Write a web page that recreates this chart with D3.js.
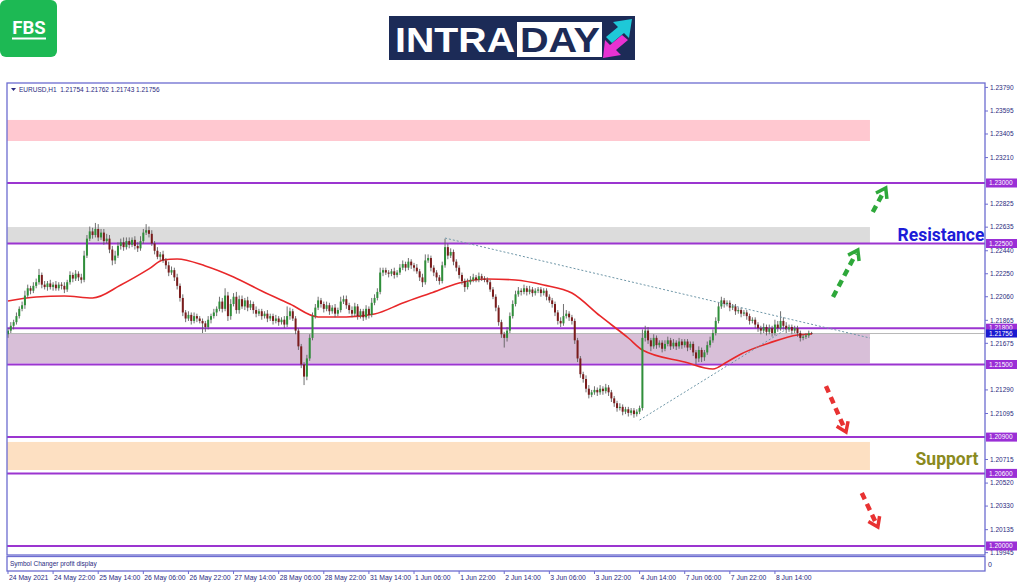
<!DOCTYPE html>
<html><head><meta charset="utf-8">
<script src="https://cdn.jsdelivr.net/npm/d3@7"></script>
<style>body{margin:0;background:#fff;} svg{display:block;font-family:"Liberation Sans",Arial,sans-serif}</style>
</head><body><svg id="c" width="1024" height="587"></svg>
<script>
// ---------- DATA ----------
const symbolTitle = "EURUSD,H1  1.21754 1.21762 1.21743 1.21756";
const closes = [
1.2178,1.2182,1.2185,1.2190,1.2196,1.2199,1.2207,1.2213,1.2211,1.2215,
1.2218,1.2224,1.2216,1.2214,1.2217,1.2214,1.2216,1.2213,1.2216,1.2215,
1.2212,1.2218,1.2224,1.2221,1.2225,1.2222,1.2220,1.2240,1.2254,1.2260,
1.2257,1.2262,1.2255,1.2259,1.2252,1.2254,1.2245,1.2236,1.2240,1.2248,
1.2251,1.2247,1.2252,1.2249,1.2253,1.2248,1.2246,1.2252,1.2259,1.2261,
1.2258,1.2250,1.2244,1.2239,1.2241,1.2236,1.2232,1.2226,1.2228,1.2222,
1.2215,1.2205,1.2193,1.2188,1.2191,1.2186,1.2190,1.2188,1.2186,1.2184,
1.2181,1.2187,1.2190,1.2193,1.2196,1.2202,1.2196,1.2207,1.2190,1.2200,
1.2206,1.2195,1.2204,1.2198,1.2203,1.2197,1.2200,1.2195,1.2192,1.2194,
1.2190,1.2192,1.2188,1.2190,1.2186,1.2188,1.2185,1.2187,1.2183,1.2190,
1.2194,1.2188,1.2178,1.2165,1.2150,1.2140,1.2155,1.2172,1.2190,1.2197,
1.2203,1.2200,1.2196,1.2199,1.2194,1.2197,1.2192,1.2195,1.2202,1.2204,
1.2199,1.2195,1.2192,1.2198,1.2190,1.2194,1.2189,1.2196,1.2191,1.2201,
1.2205,1.2210,1.2226,1.2228,1.2226,1.2225,1.2227,1.2224,1.2226,1.2230,
1.2233,1.2230,1.2235,1.2232,1.2230,1.2227,1.2222,1.2218,1.2236,1.2238,
1.2230,1.2226,1.2222,1.2219,1.2232,1.2247,1.2240,1.2243,1.2235,1.2230,
1.2224,1.2219,1.2214,1.2218,1.2220,1.2222,1.2220,1.2223,1.2221,1.2220,
1.2218,1.2212,1.2206,1.2197,1.2185,1.2175,1.2172,1.2178,1.2190,1.2200,
1.2208,1.2211,1.2210,1.2213,1.2210,1.2212,1.2209,1.2211,1.2212,1.2209,
1.2211,1.2206,1.2203,1.2200,1.2193,1.2186,1.2184,1.2190,1.2192,1.2189,
1.2186,1.2170,1.2155,1.2142,1.2138,1.2130,1.2125,1.2127,1.2129,1.2127,
1.2130,1.2128,1.2131,1.2127,1.2122,1.2118,1.2114,1.2115,1.2111,1.2113,
1.2110,1.2112,1.2109,1.2111,1.2114,1.2172,1.2178,1.2170,1.2165,1.2172,
1.2166,1.2168,1.2163,1.2167,1.2170,1.2165,1.2168,1.2165,1.2169,1.2166,
1.2169,1.2164,1.2167,1.2160,1.2155,1.2162,1.2156,1.2160,1.2166,1.2170,
1.2176,1.2186,1.2198,1.2203,1.2200,1.2201,1.2197,1.2198,1.2194,1.2195,
1.2192,1.2193,1.2190,1.2186,1.2187,1.2183,1.2180,1.2178,1.2181,1.2177,
1.2180,1.2176,1.2183,1.2180,1.2186,1.2182,1.2179,1.2181,1.2178,1.2180,
1.2176,1.2172,1.2173,1.2174,1.2176,1.21756];
const firstOpen = 1.2175;
// upper / lower wick lengths in pips
const wickUp = [
2,3,2,3,2,3,4,3,2,3, 3,5,2,3,2,3,2,3,2,2, 3,2,3,2,3,2,3,4,3,4, 3,5,4,3,3,4,3,3,4,3,
3,4,3,3,2,3,3,4,3,5, 3,3,2,3,2,3,2,3,3,2, 3,2,3,2,3,2,3,2,2,2, 2,3,2,3,2,4,3,6,3,4,
3,4,3,3,2,3,3,2,3,2, 2,2,3,2,2,3,2,2,3,8, 3,2,2,2,2,2,3,3,3,3, 3,2,2,3,2,2,3,2,4,3,
3,2,3,3,2,2,2,3,2,4, 3,3,4,2,2,2,2,3,2,3, 3,2,3,2,2,3,2,3,5,3, 2,2,2,2,3,7,3,3,2,2,
2,2,2,3,3,3,2,3,2,2, 2,2,2,2,2,2,2,3,3,3, 3,3,2,3,2,3,2,2,2,2, 2,2,2,2,2,2,3,10,3,2,
2,2,2,2,2,3,3,2,3,2, 3,2,3,2,2,2,2,3,2,2, 2,2,2,2,2,7,4,3,2,3, 2,2,2,3,3,2,3,2,3,2,
2,2,2,2,2,3,2,2,3,3, 3,3,3,3,2,2,2,2,2,2, 2,2,2,2,2,2,2,2,3,2, 3,2,4,3,8,3,3,2,2,2,
2,2,2,2,2,1];
const wickDn = [
3,2,3,2,2,2,3,2,3,2, 2,2,3,2,3,2,3,2,2,3, 3,2,2,3,2,3,3,2,2,2, 3,2,3,2,3,2,3,4,3,2,
3,3,2,3,2,3,3,2,2,2, 3,2,3,2,3,2,3,3,2,3, 3,3,3,3,2,3,2,3,2,8, 4,2,3,2,3,2,3,2,4,3,
2,3,3,2,3,3,2,3,3,2, 3,2,3,2,3,2,3,2,3,2, 3,2,3,3,3,7,3,2,2,2, 2,3,3,2,3,2,3,2,2,2,
3,3,3,2,3,2,3,2,3,2, 2,2,2,3,2,3,2,3,2,2, 2,3,2,3,3,2,3,4,2,2, 3,3,3,3,2,2,3,2,3,3,
3,3,4,2,2,2,2,2,2,2, 2,2,2,3,3,3,8,3,2,2, 2,2,3,2,3,2,3,2,2,3, 2,3,2,3,3,3,3,2,2,3,
3,3,3,3,3,3,3,2,2,3, 2,3,2,3,3,3,3,2,3,2, 3,2,3,2,2,2,3,3,4,2, 3,2,3,2,2,3,2,3,2,3,
2,3,2,3,5,3,4,3,2,2, 2,2,2,2,3,2,3,2,3,2, 3,2,3,3,2,3,3,3,2,3, 2,3,2,3,2,3,3,2,3,2,
3,3,2,2,2,1];
// moving average (red line) read at bar indices
const maIdx = [0,10,20,30,40,50,55,60,70,80,90,100,110,120,130,140,150,160,170,180,190,200,210,220,225,240,250,255,260,270,280,285];
const maVal = [1.22025,1.22058,1.22066,1.22050,1.22157,1.22290,1.22364,1.22372,1.22314,1.22223,1.22107,1.22000,1.21893,1.21893,1.21917,1.22008,1.22091,1.22174,1.22207,1.22198,1.22157,1.22091,1.21901,1.21719,1.21620,1.21521,1.21463,1.21521,1.21587,1.21678,1.21744,1.21752];
// horizontal levels and zones
const levels = [1.23000,1.22500,1.21800,1.21500,1.20900,1.20600,1.20000];
const zoneTop = [1.23521,1.22636,1.21756,1.20860];
const zoneBottom = [1.23347,1.22500,1.21510,1.20628];
const currentPrice = 1.21756;
// axis ticks (visible ones)
const yTicks = [1.23790,1.23595,1.23405,1.23210,1.22825,1.22635,1.22440,1.22250,1.22060,1.21865,1.21675,1.21290,1.21095,1.20715,1.20520,1.20330,1.20135,1.19945];
const xTickLabels = ["24 May 2021","24 May 22:00","25 May 14:00","26 May 06:00","26 May 22:00","27 May 14:00","28 May 06:00","28 May 22:00","31 May 14:00","1 Jun 06:00","1 Jun 22:00","2 Jun 14:00","3 Jun 06:00","3 Jun 22:00","4 Jun 14:00","7 Jun 06:00","7 Jun 22:00","8 Jun 14:00"];
const barsPerLabel = 16;
// trend lines [index, price]
const trendUpper = [[155,1.22545],[305.7,1.21719]];
const trendLower = [[224,1.21041],[277.3,1.21810]];
// annotation arrows [fromIndex, fromPrice, toIndex, toPrice]
const greenArrows = [[292.6,1.22058,301.4,1.22446],[306.7,1.22760,311.3,1.22959]];
const redArrows = [[290.1,1.21322,297.2,1.20942],[302.8,1.20438,308.5,1.20157]];
const resistanceLabel = {text:"Resistance", idx:346.3, price:1.22521};
const supportLabel = {text:"Support", idx:344.2, price:1.20669};

// ---------- DRAW ----------
const svg = d3.select("#c");
const L=7, R=985, T=83, B=555, SB=571;
const x = d3.scaleLinear().domain([-0.35, 346.5]).range([L, R]);
const y = d3.scaleLinear().domain([1.23-(B-183)/12100, 1.23+(183-T)/12100]).range([B, T]);
const fmt = d3.format(".5f");
const frameColor = "#6c6cd0", textColor = "#2a2a80", levelColor = "#9b35d0";

// logos
const fbs = svg.append("g");
fbs.append("rect").attr("x",0).attr("y",0).attr("width",57).attr("height",57).attr("rx",6).attr("fill","#1db954");
fbs.append("text").attr("x",29).attr("y",34).attr("text-anchor","middle").attr("fill","#fff")
  .attr("font-size",18.5).attr("font-weight","bold").attr("font-family","Roboto, sans-serif").text("FBS");
fbs.append("rect").attr("x",12).attr("y",37.5).attr("width",34).attr("height",2).attr("fill","#fff");

const lg = svg.append("g");
lg.append("rect").attr("x",389).attr("y",16).attr("width",246).attr("height",44).attr("fill","#1c2b57");
lg.append("text").attr("x",395).attr("y",52).attr("fill","#fff").attr("font-size",35).attr("font-weight","bold")
  .attr("textLength",120).attr("lengthAdjust","spacingAndGlyphs").text("INTRA");
lg.append("rect").attr("x",517).attr("y",22).attr("width",85).attr("height",35).attr("fill","#fff");
lg.append("text").attr("x",520).attr("y",52).attr("fill","#1c2b57").attr("font-size",35).attr("font-weight","bold")
  .attr("textLength",80).attr("lengthAdjust","spacingAndGlyphs").text("DAY");
lg.append("path").attr("d","M606,37 L618,27 L613,22 L632,19 L629,38 L624,33 L612,43 Z").attr("fill","#1ec8d8");
lg.append("path").attr("d","M628,40 L616,50 L621,55 L603,58 L605,40 L610,45 L622,35 Z").attr("fill","#e832d2");

// frame
svg.append("rect").attr("x",L).attr("y",T).attr("width",R-L).attr("height",B-T).attr("fill","#fff");
const defs = svg.append("defs");
defs.append("clipPath").attr("id","clip").append("rect").attr("x",L).attr("y",T).attr("width",R-L).attr("height",B-T);
const plot = svg.append("g").attr("clip-path","url(#clip)");

// zones
const zoneColors = ["#ffc8d0","#dcdcdc","#d8bfd8","#fde0c2"];
plot.selectAll("rect.zone").data(zoneTop).join("rect").attr("class","zone")
  .attr("x",x(-0.35)).attr("width",x(305.7)-x(-0.35))
  .attr("y",d=>y(d)).attr("height",(d,i)=>y(zoneBottom[i])-y(d)).attr("fill",(d,i)=>zoneColors[i]);

// current price line
plot.append("line").attr("x1",L).attr("x2",R).attr("y1",y(currentPrice)).attr("y2",y(currentPrice))
  .attr("stroke","#b8b8b8").attr("stroke-width",1);

// levels
plot.selectAll("line.lvl").data(levels).join("line").attr("class","lvl")
  .attr("x1",L).attr("x2",R).attr("y1",d=>y(d)).attr("y2",d=>y(d))
  .attr("stroke",levelColor).attr("stroke-width",2);

// MA
const maLine = d3.line().x(d=>x(d[0])).y(d=>y(d[1])).curve(d3.curveMonotoneX);
plot.append("path").datum(maIdx.map((d,i)=>[d,maVal[i]])).attr("d",maLine)
  .attr("fill","none").attr("stroke","#e8282a").attr("stroke-width",1.6);

// candles
const bars = closes.map((c,i)=>{
  const o = i===0?firstOpen:closes[i-1];
  return {i,o,c,h:Math.max(o,c)+wickUp[i]*0.0001,l:Math.min(o,c)-wickDn[i]*0.0001};
});
const cg = plot.append("g");
cg.selectAll("line").data(bars).join("line")
  .attr("x1",d=>x(d.i)).attr("x2",d=>x(d.i)).attr("y1",d=>y(d.h)).attr("y2",d=>y(d.l))
  .attr("stroke","#606060").attr("stroke-width",0.9);
cg.selectAll("rect").data(bars).join("rect")
  .attr("x",d=>x(d.i)-1).attr("width",2)
  .attr("y",d=>y(Math.max(d.o,d.c))).attr("height",d=>Math.max(0.8,Math.abs(y(d.o)-y(d.c))))
  .attr("fill",d=>d.c>=d.o?"#2f8f3a":"#7a1c1c");

// trend lines
[trendUpper,trendLower].forEach(t=>{
  plot.append("line").attr("x1",x(t[0][0])).attr("y1",y(t[0][1])).attr("x2",x(t[1][0])).attr("y2",y(t[1][1]))
    .attr("stroke","#6f97a8").attr("stroke-width",1).attr("stroke-dasharray","2,2");
});

// arrows
function arrow(a,color){
  const x0=x(a[0]),y0=y(a[1]),x1=x(a[2]),y1=y(a[3]);
  const ang=Math.atan2(y1-y0,x1-x0);
  const g=plot.append("g");
  g.append("line").attr("x1",x0).attr("y1",y0).attr("x2",x1-Math.cos(ang)*4).attr("y2",y1-Math.sin(ang)*4)
    .attr("stroke",color).attr("stroke-width",4.5).attr("stroke-dasharray","7,5");
  const hl=11, sp=0.6;
  const p1=[x1-hl*Math.cos(ang-sp),y1-hl*Math.sin(ang-sp)];
  const p2=[x1-hl*Math.cos(ang+sp),y1-hl*Math.sin(ang+sp)];
  g.append("path").attr("d",`M${p1[0]},${p1[1]} L${x1},${y1} L${p2[0]},${p2[1]}`)
    .attr("fill","none").attr("stroke",color).attr("stroke-width",3.5).attr("stroke-linejoin","miter");
}
greenArrows.forEach(a=>arrow(a,"#2ea83a"));
redArrows.forEach(a=>arrow(a,"#e83232"));

// labels
plot.append("text").attr("x",x(resistanceLabel.idx)).attr("y",y(resistanceLabel.price)).attr("text-anchor","end")
  .attr("font-family","Roboto, sans-serif").attr("font-weight","bold").attr("font-size",17.5).attr("fill","#1c1cd8")
  .text(resistanceLabel.text);
plot.append("text").attr("x",x(supportLabel.idx)).attr("y",y(supportLabel.price)).attr("text-anchor","end")
  .attr("font-family","Roboto, sans-serif").attr("font-weight","bold").attr("font-size",17.5).attr("fill","#8a8a1e")
  .text(supportLabel.text);

// header
svg.append("path").attr("d",`M11,88 L16,88 L13.5,91 Z`).attr("fill",textColor);
svg.append("text").attr("x",19).attr("y",91.5).attr("font-size",6.5).attr("fill",textColor).attr("xml:space","preserve").text(symbolTitle);

// frame borders
svg.append("rect").attr("x",L).attr("y",T).attr("width",R-L).attr("height",B-T).attr("fill","none").attr("stroke",frameColor).attr("stroke-width",1.3);
svg.append("rect").attr("x",L).attr("y",B+1.5).attr("width",R-L).attr("height",SB-B-1.5).attr("fill","#fff").attr("stroke",frameColor).attr("stroke-width",1.3);
svg.append("text").attr("x",10).attr("y",566).attr("font-size",6.5).attr("fill",textColor).text("Symbol Changer profit display");
svg.append("text").attr("x",988).attr("y",567).attr("font-size",7).attr("fill",textColor).text("0");

// right axis
const ya = svg.append("g");
ya.selectAll("line").data(yTicks).join("line").attr("x1",R).attr("x2",R+3).attr("y1",d=>y(d)).attr("y2",d=>y(d)).attr("stroke",frameColor);
ya.selectAll("text").data(yTicks).join("text").attr("x",R+5).attr("y",d=>y(d)).attr("dy","0.35em")
  .attr("font-size",6.5).attr("fill",textColor).text(d=>fmt(d));
const lb = svg.append("g");
levels.forEach(v=>{
  lb.append("rect").attr("x",R+1).attr("y",y(v)-4.5).attr("width",31).attr("height",9).attr("fill","#9a2fd6");
  lb.append("text").attr("x",R+4).attr("y",y(v)).attr("dy","0.35em").attr("font-size",6.5).attr("fill","#fff").text(fmt(v));
});
lb.append("rect").attr("x",R+1).attr("y",y(currentPrice)-4).attr("width",31).attr("height",8).attr("fill","#1a1ad0");
lb.append("text").attr("x",R+4).attr("y",y(currentPrice)).attr("dy","0.35em").attr("font-size",6.5).attr("fill","#fff").text(fmt(currentPrice));

// bottom axis
const xa = svg.append("g");
xTickLabels.forEach((t,k)=>{
  const xi = x(k*barsPerLabel);
  xa.append("line").attr("x1",xi).attr("x2",xi).attr("y1",SB).attr("y2",SB+3).attr("stroke",frameColor);
  xa.append("text").attr("x",xi+1).attr("y",580).attr("font-size",6.8).attr("fill",textColor).text(t);
});
</script></body></html>
